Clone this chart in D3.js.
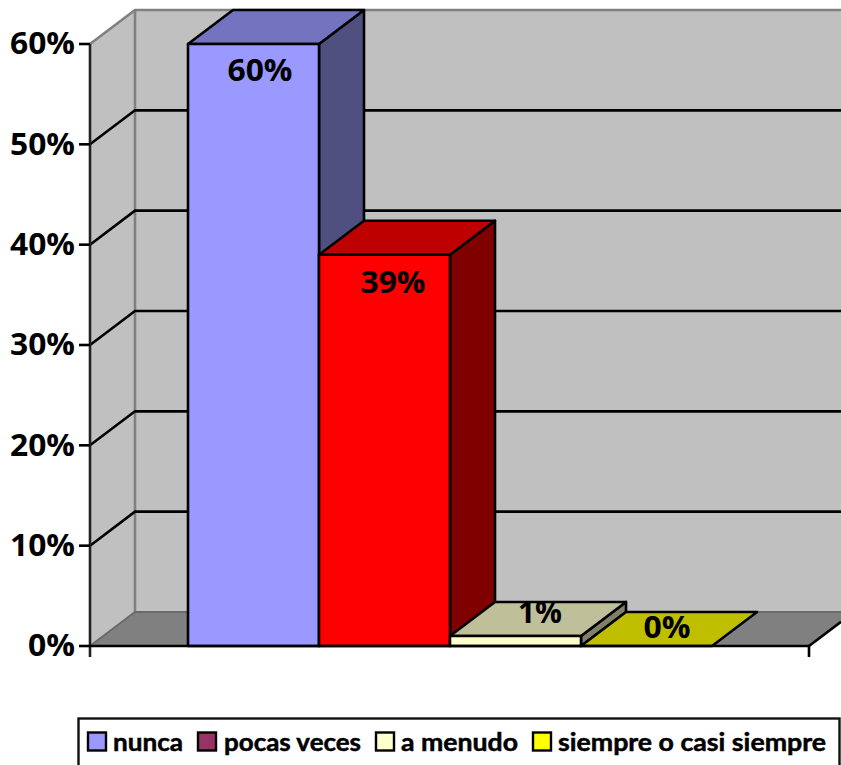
<!DOCTYPE html>
<html><head><meta charset="utf-8">
<script src="https://cdn.jsdelivr.net/npm/d3@7"></script>
<style>html,body{margin:0;padding:0;background:#fff;overflow:hidden}svg{display:block}</style>
</head><body><svg id="c" width="841" height="765"></svg>
<script>
const categories = ["nunca","pocas veces","a menudo","siempre o casi siempre"];
const values = [0.60,0.39,0.01,0.00];
const valueLabels = ["60%","39%","1%","0%"];
const tickValues = [0,0.1,0.2,0.3,0.4,0.5,0.6];
const frontColors = ["#9999FF","#FF0000","#FFFFCC","#FFFF00"];
const topColors = ["#7373BF","#BF0000","#BFBF99","#BFBF00"];
const sideColors = ["#4F4F80","#800000","#80806A","#808000"];
const legendColors = ["#9999FF","#993366","#FFFFCC","#FFFF00"];

const svg = d3.select("#c");
const W = 841;
const y = d3.scaleLinear().domain([0,0.6]).range([646,44]);
const x0 = 90, x1 = 809, dx = 45, dy = -34;
const x = d3.scaleBand().domain(categories).range([188,712]).padding(0);
const poly = p => p.map(a=>a.join(",")).join(" ");
const WALL="#C0C0C0", FLOOR="#808080", EDGE="#808080", SW=2.6;
const FONT="'Open Sans'";

// walls
svg.append("polygon").attr("points",poly([[x0,y(0)],[x0+dx,y(0)+dy],[x0+dx,y(0.6)+dy],[x0,y(0.6)]])).attr("fill",WALL);
svg.append("rect").attr("x",x0+dx).attr("y",y(0.6)+dy).attr("width",W-x0-dx).attr("height",y(0)-y(0.6)).attr("fill",WALL);
svg.append("polygon").attr("points",poly([[x0,y(0)],[x1,y(0)],[x1+dx,y(0)+dy],[x0+dx,y(0)+dy]])).attr("fill",FLOOR);
// wall edges
svg.append("polyline").attr("points",poly([[x0,y(0.6)],[x0+dx,y(0.6)+dy],[W,y(0.6)+dy]])).attr("fill","none").attr("stroke",EDGE).attr("stroke-width",SW);
svg.append("line").attr("x1",x0+dx).attr("x2",x0+dx).attr("y1",y(0.6)+dy).attr("y2",y(0)+dy).attr("stroke",EDGE).attr("stroke-width",SW);
svg.append("polyline").attr("points",poly([[x0,y(0)],[x0+dx,y(0)+dy],[W,y(0)+dy]])).attr("fill","none").attr("stroke","#6a6a6a").attr("stroke-width",2);

// gridlines
tickValues.filter(t=>t>0&&t<0.6).forEach(t=>{
  svg.append("polyline").attr("points",poly([[x0,y(t)],[x0+dx,y(t)+dy],[W,y(t)+dy]])).attr("fill","none").attr("stroke","#000").attr("stroke-width",SW);
});

// axes
const axisG = svg.append("g");
axisG.append("line").attr("x1",x0).attr("x2",x0).attr("y1",y(0.6)).attr("y2",y(0)+11).attr("stroke","#222").attr("stroke-width",SW);
tickValues.forEach(t=>{
  axisG.append("line").attr("x1",x0-11).attr("x2",x0).attr("y1",y(t)).attr("y2",y(t)).attr("stroke","#000").attr("stroke-width",SW);
  axisG.append("text").attr("x",x0-15).attr("y",y(t)+2).attr("text-anchor","end").attr("dominant-baseline","middle")
    .attr("font-family",FONT).attr("font-weight","bold").attr("font-size",31).attr("textLength",t===0?47:65).attr("lengthAdjust","spacingAndGlyphs")
    .text(d3.format(".0%")(t));
});

// bars
categories.forEach((c,i)=>{
  const L=x(c), R=L+x.bandwidth(), T=y(values[i]), B=y(0);
  const g=svg.append("g").attr("stroke","#000").attr("stroke-width",SW).attr("stroke-linejoin","round");
  if(values[i]>0){
    g.append("polygon").attr("points",poly([[R,T],[R+dx,T+dy],[R+dx,B+dy],[R,B]])).attr("fill",sideColors[i]);
  }
  g.append("polygon").attr("points",poly([[L,T],[L+dx,T+dy],[R+dx,T+dy],[R,T]])).attr("fill",topColors[i]);
  if(values[i]>0){
    g.append("rect").attr("x",L).attr("y",T).attr("width",x.bandwidth()).attr("height",B-T).attr("fill",frontColors[i]);
  }
});
// baseline
svg.append("line").attr("x1",x0).attr("x2",x1).attr("y1",y(0)).attr("y2",y(0)).attr("stroke","#000").attr("stroke-width",SW);
svg.append("line").attr("x1",x1).attr("x2",x1).attr("y1",y(0)).attr("y2",y(0)+11).attr("stroke","#000").attr("stroke-width",SW);
svg.append("line").attr("x1",x1).attr("x2",W).attr("y1",y(0)).attr("y2",y(0)+dy*(W-x1)/dx).attr("stroke","#000").attr("stroke-width",SW);

// data labels
categories.forEach((c,i)=>{
  const cx=x(c)+x.bandwidth()/2, T=y(values[i]);
  const off = i<2 ? [i?8.5:6.5, i?30:29] : [i===2?24.5:20.5, i===2?-21:-16];
  svg.append("text").attr("x",cx+off[0]).attr("y",T+off[1]).attr("text-anchor","middle").attr("dominant-baseline","middle")
    .attr("font-family",FONT).attr("font-weight","bold").attr("font-size",31).attr("textLength",i===2?44:(i===3?47:65)).attr("lengthAdjust","spacingAndGlyphs")
    .text(valueLabels[i]);
});

// legend
svg.append("rect").attr("x",78.5).attr("y",718.5).attr("width",761).attr("height",60).attr("fill","#fff").attr("stroke","#111").attr("stroke-width",2.4);
const lgX=[88,198,376,533], txX=[113,224,401,558], txW=[70,137,117,268];
categories.forEach((c,i)=>{
  svg.append("rect").attr("x",lgX[i]).attr("y",732.5).attr("width",18).attr("height",18).attr("fill",legendColors[i]).attr("stroke","#000").attr("stroke-width",2.4);
  svg.append("text").attr("x",txX[i]).attr("y",751).attr("font-family","Lato").attr("font-weight","bold").attr("font-size",24).attr("textLength",txW[i]).attr("lengthAdjust","spacingAndGlyphs").attr("fill","#000").attr("stroke","#000").attr("stroke-width",0.5).text(c);
});
</script></body></html>
